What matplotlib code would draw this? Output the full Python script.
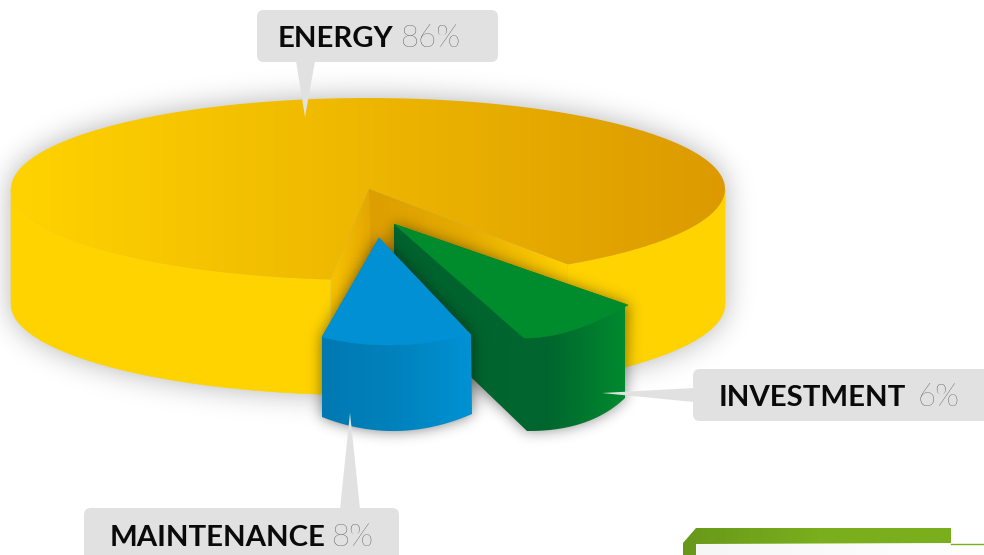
import numpy as np
import matplotlib
matplotlib.use("Agg")
import matplotlib.pyplot as plt
from matplotlib.path import Path
from matplotlib.patches import PathPatch, FancyBboxPatch, Polygon
from matplotlib.colors import LinearSegmentedColormap

categories = ["ENERGY", "MAINTENANCE", "INVESTMENT"]
shares = [86, 8, 6]

W, H = 984, 555
# ellipse of the big slice, in pixels
CX, CY, RX, RY, DEPTH = 368, 189, 357, 91, 115
NOTCH_START = 56
NOTCH_SCALE = 0.794  # the drawing squeezes the opening a bit

GX, GY = np.meshgrid(np.arange(W) + 0.5, np.arange(H) + 0.5)


def ell(t, dy=0):
    t = np.radians(t)
    return np.column_stack([CX + RX * np.cos(t), CY + dy + RY * np.sin(t)])


def bez(p0, c, p1, n=40):
    t = np.linspace(0, 1, n)[:, None]
    return (1 - t) ** 2 * np.array(p0) + 2 * t * (1 - t) * np.array(c) + t ** 2 * np.array(p1)


def blur(a, sigma):
    # gaussian blur through fft, padded so nothing wraps round the edges
    pad = int(4 * sigma)
    b = np.pad(a, pad)
    fy = np.fft.fftfreq(b.shape[0])[:, None]
    fx = np.fft.rfftfreq(b.shape[1])[None, :]
    g = np.exp(-2 * (np.pi * sigma) ** 2 * (fx ** 2 + fy ** 2))
    out = np.fft.irfft2(np.fft.rfft2(b) * g, s=b.shape)
    return out[pad:-pad, pad:-pad]


def shadow(ax, pts, sigma, strength, z):
    mask = Path(pts).contains_points(np.column_stack([GX.ravel(), GY.ravel()])).reshape(H, W)
    rgba = np.zeros((H, W, 4))
    rgba[..., 3] = np.clip(blur(mask.astype(float), sigma), 0, 1) * strength
    ax.imshow(rgba, extent=(0, W, H, 0), zorder=z, interpolation="bilinear", aspect="auto")


def grad_fill(ax, pts, stops, x0, x1, z):
    patch = PathPatch(Path(np.vstack([pts, pts[:1]])), fc="none", ec="none", transform=ax.transData)
    ax.add_patch(patch)
    cmap = LinearSegmentedColormap.from_list("g", stops)
    im = ax.imshow(np.linspace(0, 1, 256)[None, :], cmap=cmap, extent=(x0, x1, H, 0),
                   zorder=z, aspect="auto", interpolation="bilinear")
    im.set_clip_path(patch)


def flat(ax, pts, color, z):
    ax.add_patch(Polygon(pts, closed=True, fc=color, ec=color, lw=0.4, zorder=z))


def callout(ax, x0, y0, x1, y1, tail, z=20):
    ax.add_patch(FancyBboxPatch((x0 + 7, y0 + 7), x1 - x0 - 14, y1 - y0 - 14,
                                boxstyle="round,pad=7,rounding_size=7",
                                fc="#e1e1e1", ec="none", zorder=z))
    ax.add_patch(Polygon(tail, closed=True, fc="#e1e1e1", ec="none", zorder=z))


fig = plt.figure(figsize=(W / 100, H / 100), dpi=100)
ax = fig.add_axes([0, 0, 1, 1])

# ---- big slice ----
sweep = (100 - shares[0]) / 100 * 360 * NOTCH_SCALE
a0, a1 = NOTCH_START, NOTCH_START + sweep
apex = np.array([[CX + 1, CY]])
outline = np.vstack([ell(np.linspace(0, 180, 200), DEPTH), ell(np.linspace(180, 360, 200))])
shadow(ax, outline, 14, 0.30, 1)

wall_l = np.vstack([ell(np.linspace(a1, 180, 120)), ell(np.linspace(180, a1, 120), DEPTH)])
wall_r = np.vstack([ell(np.linspace(0, a0, 80)), ell(np.linspace(a0, 0, 80), DEPTH)])
flat(ax, wall_l, "#ffd300", 2)
flat(ax, wall_r, "#ffd300", 2)

top = np.vstack([apex, ell(np.linspace(a1, a0 + 360, 500))])
grad_fill(ax, top, ["#ffd300", "#dc9a00"], CX - RX, CX + RX, 3)

# inner walls of the opening
pl, pr = ell(a1)[0], ell(a0)[0]
left_in = np.array([apex[0], pl, pl + [0, DEPTH], apex[0] + [2, DEPTH]])
right_in = np.array([apex[0], pr, pr + [0, DEPTH], apex[0] + [2, DEPTH]])
grad_fill(ax, right_in, ["#dc9e00", "#e6ac00", "#ffd000"], CX, pr[0], 4)
grad_fill(ax, left_in, ["#f8c300", "#e2a500"], pl[0], CX + 3, 4)

# ---- green slice ----
g_apex, g_r, g_f = (394, 224), (628, 305), (524, 338)
g_top = np.vstack([[g_apex], [g_r], bez(g_r, (570, 338.5), g_f)])
g_body = np.vstack([[g_apex], [g_r], [625, 398], bez((625, 398), (590, 431.5), (527, 431)),
                    [472, 378], [394, 300]])

b_apex, b_r, b_l = (379, 238), (471, 335), (322, 337)
b_top = np.vstack([[b_apex], [b_r], bez(b_r, (390, 354), b_l)])
b_body = np.vstack([[b_apex], [b_r], [472, 414], bez((472, 414), (397, 446.5), (322, 417)), [b_l]])

shadow(ax, g_body, 7, 0.45, 5)
grad_fill(ax, g_body, ["#00622e", "#00642e", "#00662e", "#008a2e"], 394, 625, 6)
flat(ax, g_top, "#008c2d", 7)

# ---- blue slice ----
shadow(ax, b_body, 7, 0.5, 8)
grad_fill(ax, b_body, ["#0079b2", "#0082bd", "#0092d4"], 322, 472, 9)
flat(ax, b_top, "#0090d3", 10)

# ---- call outs ----
callout(ax, 257, 10, 498, 62, [(296, 61), (315, 61), (305, 117)])
callout(ax, 693, 369, 1000, 421, [(694, 388), (694, 402), (602, 393)])
callout(ax, 84, 508, 399, 575, [(340, 509), (360, 509), (350, 413)])

label_pos = {"ENERGY": (278, 47, 401), "INVESTMENT": (719, 406, 917), "MAINTENANCE": (110, 546, 332)}
for name, share in zip(categories, shares):
    x, y, xp = label_pos[name]
    ax.text(x, y, name, family="Lato", weight="bold", fontsize=21.2, color="#0a0a0a",
            ha="left", va="baseline", zorder=21)
    ax.text(xp, y, f"{share}%", family="Lato", weight="light", fontsize=22.5, color="#333333",
            ha="left", va="baseline", zorder=21)

# ---- bit of the next panel at the corner ----
tab = np.array([(683, 555), (683, 543), (696, 528), (951, 528), (951, 543), (696, 544), (696, 555)])
grad_fill(ax, tab, ["#68981a", "#7aae1c", "#7aae1c"], 683, 951, 5)
ax.plot([951, 984], [543.5, 543.5], color="#7aae1c", lw=1, zorder=5)
grad_fill(ax, np.array([(696, 544), (984, 544), (984, 555), (696, 555)]), ["#f6f6f6", "#ffffff"], 696, 984, 4)

ax.set_xlim(0, W)
ax.set_ylim(H, 0)
ax.axis("off")
fig.savefig("out.png", dpi=100)
